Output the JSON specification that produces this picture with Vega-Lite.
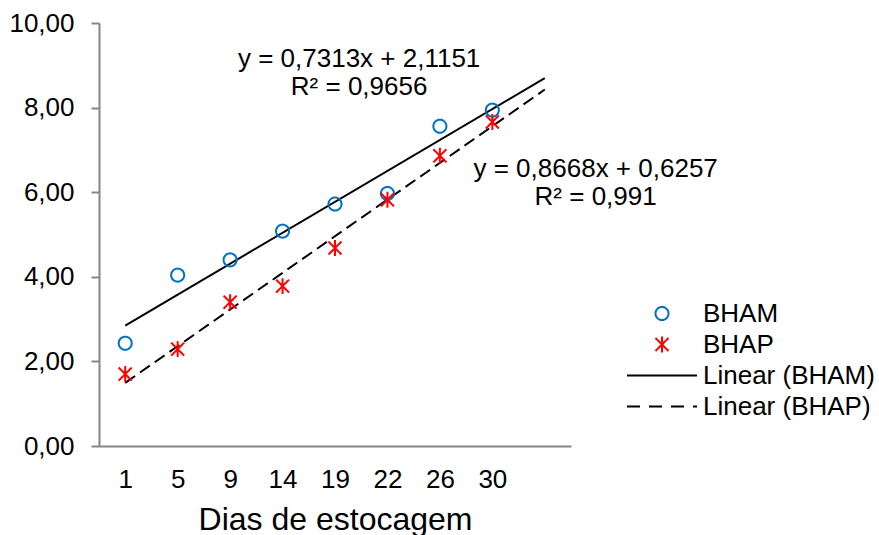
{
  "$schema": "https://vega.github.io/schema/vega-lite/v6.json",
  "width": 472,
  "height": 423,
  "autosize": {"type": "none"},
  "padding": {"left": 99, "top": 23, "right": 308, "bottom": 89},
  "background": "white",
  "config": {
    "view": {"stroke": null},
    "font": "Liberation Sans",
    "axis": {"grid": false, "domainColor": "#868686", "domainWidth": 2, "tickColor": "#868686", "tickWidth": 2, "labelColor": "#000000", "labelFont": "Liberation Sans", "titleFont": "Liberation Sans", "titleColor": "#000000", "titleFontWeight": "normal"},
    "legend": {"title": null, "orient": "none", "legendX": 527, "legendY": 277, "labelFontSize": 26, "labelFont": "Liberation Sans", "labelColor": "#000000", "labelOffset": 5, "labelLimit": 400, "symbolStrokeWidth": 2, "rowPadding": 4, "clipHeight": 27}
  },
  "datasets": {
    "pts": [
      {"dia": "1", "i": 1, "s": "BHAM", "v": 2.43},
      {"dia": "5", "i": 2, "s": "BHAM", "v": 4.04},
      {"dia": "9", "i": 3, "s": "BHAM", "v": 4.40},
      {"dia": "14", "i": 4, "s": "BHAM", "v": 5.08},
      {"dia": "19", "i": 5, "s": "BHAM", "v": 5.72},
      {"dia": "22", "i": 6, "s": "BHAM", "v": 5.97},
      {"dia": "26", "i": 7, "s": "BHAM", "v": 7.56},
      {"dia": "30", "i": 8, "s": "BHAM", "v": 7.94},
      {"dia": "1", "i": 1, "s": "BHAP", "v": 1.70},
      {"dia": "5", "i": 2, "s": "BHAP", "v": 2.29},
      {"dia": "9", "i": 3, "s": "BHAP", "v": 3.40},
      {"dia": "14", "i": 4, "s": "BHAP", "v": 3.78},
      {"dia": "19", "i": 5, "s": "BHAP", "v": 4.68},
      {"dia": "22", "i": 6, "s": "BHAP", "v": 5.82},
      {"dia": "26", "i": 7, "s": "BHAP", "v": 6.86},
      {"dia": "30", "i": 8, "s": "BHAP", "v": 7.66}
    ],
    "trendM": [
      {"i": 1, "s": "Linear (BHAM)", "v": 2.8464},
      {"i": 9, "s": "Linear (BHAM)", "v": 8.6968}
    ],
    "trendP": [
      {"i": 1, "s": "Linear (BHAP)", "v": 1.4925},
      {"i": 9, "s": "Linear (BHAP)", "v": 8.4269}
    ],
    "notes": [
      {"i": 5.46, "v": 8.96, "t": "y = 0,7313x + 2,1151"},
      {"i": 5.46, "v": 8.30, "t": "R² = 0,9656"},
      {"i": 9.97, "v": 6.36, "t": "y = 0,8668x + 0,6257"},
      {"i": 9.97, "v": 5.70, "t": "R² = 0,991"}
    ]
  },
  "layer": [
    {
      "data": {"name": "trendM"},
      "mark": {"type": "line", "color": "#000000", "strokeWidth": 2},
      "encoding": {
        "x": {"field": "i", "type": "quantitative"},
        "y": {"field": "v", "type": "quantitative"}
      }
    },
    {
      "data": {"name": "trendP"},
      "mark": {"type": "line", "color": "#000000", "strokeWidth": 2, "strokeDash": [12, 6]},
      "encoding": {
        "x": {"field": "i", "type": "quantitative"},
        "y": {"field": "v", "type": "quantitative"}
      }
    },
    {
      "data": {"name": "pts"},
      "mark": {"type": "point", "filled": false, "strokeWidth": 2, "opacity": 1},
      "encoding": {
        "x": {
          "field": "i", "type": "quantitative",
          "scale": {"domain": [0.5, 9.5], "nice": false, "zero": false},
          "axis": {"values": [1, 2, 3, 4, 5, 6, 7, 8], "labelExpr": "['', '1', '5', '9', '14', '19', '22', '26', '30'][datum.value]", "ticks": false, "tickSize": 0, "labelPadding": 20, "labelFontSize": 26, "title": "Dias de estocagem", "titleFontSize": 32, "titlePadding": 12}
        },
        "y": {
          "field": "v", "type": "quantitative",
          "scale": {"domain": [0, 10], "nice": false},
          "axis": {"values": [0, 2, 4, 6, 8, 10], "labelExpr": "replace(format(datum.value, '.2f'), '.', ',')", "tickSize": 8, "labelPadding": 17, "labelFontSize": 26, "title": null}
        },
        "color": {
          "field": "s", "type": "nominal",
          "scale": {"domain": ["BHAM", "BHAP", "Linear (BHAM)", "Linear (BHAP)"], "range": ["#0070C0", "#FF0000", "#000000", "#000000"]}
        },
        "shape": {
          "field": "s", "type": "nominal",
          "scale": {"domain": ["BHAM", "BHAP", "Linear (BHAM)", "Linear (BHAP)"], "range": ["circle", "M-0.9,-0.9L0.9,0.9M-0.9,0.9L0.9,-0.9M0,-1.1L0,1.1", "stroke", "stroke"]}
        },
        "size": {
          "field": "s", "type": "nominal",
          "scale": {"type": "ordinal", "domain": ["BHAM", "BHAP", "Linear (BHAM)", "Linear (BHAP)"], "range": [170, 210, 4900, 4900]}
        },
        "strokeDash": {
          "field": "s", "type": "nominal",
          "scale": {"domain": ["BHAM", "BHAP", "Linear (BHAM)", "Linear (BHAP)"], "range": [[1, 0], [1, 0], [1, 0], [13, 9]]}
        }
      }
    },
    {
      "data": {"name": "notes"},
      "mark": {"type": "text", "font": "Liberation Sans", "fontSize": 26, "align": "center", "baseline": "alphabetic", "color": "#000000"},
      "encoding": {
        "x": {"field": "i", "type": "quantitative"},
        "y": {"field": "v", "type": "quantitative"},
        "text": {"field": "t"}
      }
    }
  ]
}
